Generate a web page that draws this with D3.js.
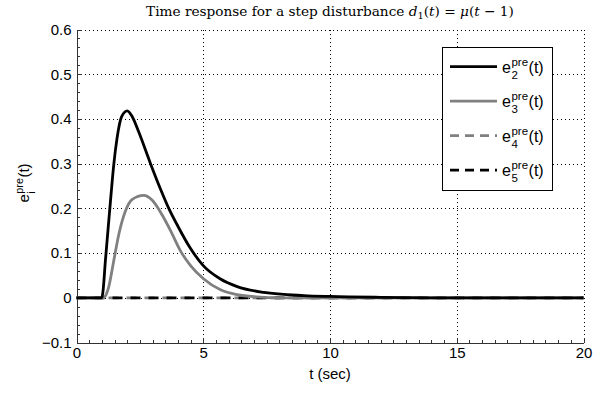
<!DOCTYPE html>
<html><head><meta charset="utf-8">
<script src="https://cdn.jsdelivr.net/npm/d3@7"></script>
<style>body{margin:0;background:#fff} svg{display:block}</style>
</head><body><svg id="c" width="594" height="394"></svg>
<script>
// ---- data ----
const tE2 = [0, 1.0, 1.04, 1.14, 1.25, 1.34, 1.47, 1.6, 1.78, 2.0, 2.2, 2.46, 2.92, 3.3, 3.64, 4.0, 4.5, 5.0, 5.68, 6.34, 7.39, 8.97, 10.0, 12, 14, 20];
const e2  = [0, 0, 0.012, 0.083, 0.157, 0.216, 0.298, 0.357, 0.405, 0.418, 0.405, 0.37, 0.30, 0.245, 0.20, 0.16, 0.11, 0.072, 0.042, 0.025, 0.012, 0.005, 0.003, 0.001, 0, 0];
const tE3 = [0, 1.0, 1.08, 1.16, 1.27, 1.47, 1.67, 1.93, 2.2, 2.65, 2.99, 3.38, 3.71, 4.1, 4.5, 5.02, 5.68, 6.34, 7.1, 8.0, 20];
const e3  = [0, 0, 0, 0.006, 0.024, 0.083, 0.142, 0.194, 0.22, 0.229, 0.218, 0.185, 0.15, 0.105, 0.072, 0.042, 0.018, 0.007, 0.002, 0, 0];
const tE4 = [0, 20];
const e4  = [0, 0];
const tE5 = [0, 20];
const e5  = [0, 0];
const xTicks = [0, 5, 10, 15, 20];
const xTickLabels = ["0", "5", "10", "15", "20"];
const yTicks = [-0.1, 0, 0.1, 0.2, 0.3, 0.4, 0.5, 0.6];
const yTickLabels = ["\u22120.1", "0", "0.1", "0.2", "0.3", "0.4", "0.5", "0.6"];
const seriesSubs = ["2", "3", "4", "5"];

// ---- layout ----
const svg = d3.select("#c");
const L = 76.5, R = 583.5, T = 29.5, B = 342.5;
const x = d3.scaleLinear().domain([0, 20]).range([L, R]);
const y = d3.scaleLinear().domain([-0.1, 0.6]).range([B, T]);
const FONT = "'Liberation Sans', Arial, Helvetica, sans-serif";

// grid (dotted)
const grid = svg.append("g").attr("stroke", "#000").attr("stroke-width", 1).attr("stroke-dasharray", "1,3").attr("shape-rendering", "crispEdges");
xTicks.slice(1).forEach(v => grid.append("line").attr("x1", Math.round(x(v)) + 0.5).attr("x2", Math.round(x(v)) + 0.5).attr("y1", T).attr("y2", B));
yTicks.slice(1).forEach(v => grid.append("line").attr("y1", Math.round(y(v)) + 0.5).attr("y2", Math.round(y(v)) + 0.5).attr("x1", L).attr("x2", R));

// axes with inward ticks
const xAxis = d3.axisBottom(x).tickValues(xTicks).tickFormat((d, i) => xTickLabels[i]).tickSizeInner(-5).tickSizeOuter(0).tickPadding(5);
const yAxis = d3.axisLeft(y).tickValues(yTicks).tickFormat((d, i) => yTickLabels[i]).tickSizeInner(-5).tickSizeOuter(0).tickPadding(5);
const gx = svg.append("g").attr("transform", `translate(0,${B})`).call(xAxis);
const gy = svg.append("g").attr("transform", `translate(${L},0)`).call(yAxis);
// minor ticks
const gxm = svg.append("g").attr("transform", `translate(0,${B})`).call(d3.axisBottom(x).tickValues(d3.range(0, 20.01, 0.5)).tickFormat("").tickSizeInner(-3).tickSizeOuter(0));
const gym = svg.append("g").attr("transform", `translate(${L},0)`).call(d3.axisLeft(y).tickValues(d3.range(-0.1, 0.601, 0.02)).tickFormat("").tickSizeInner(-3).tickSizeOuter(0));
[gx, gy, gxm, gym].forEach(g => {
  g.selectAll(".domain").attr("stroke", "#333").attr("shape-rendering", "crispEdges");
  g.selectAll(".tick line").attr("stroke", "#333").attr("shape-rendering", "crispEdges");
  g.selectAll("text").attr("font-family", FONT).attr("font-size", 15).attr("fill", "#000");
});

// lines
const line = (ts, vs) => d3.line().x((d, i) => x(ts[i])).y(d => y(d)).curve(d3.curveMonotoneX)(vs);
const series = [
  {t: tE4, v: e4, color: "#808080", dash: "10,8", off: -14},
  {t: tE5, v: e5, color: "#000", dash: "10,8", off: 0},
  {t: tE3, v: e3, color: "#808080", dash: null},
  {t: tE2, v: e2, color: "#000", dash: null}
];
series.forEach(s => {
  const p = svg.append("path").attr("d", line(s.t, s.v)).attr("fill", "none").attr("stroke", s.color).attr("stroke-width", 2.8).attr("stroke-linejoin", "round");
  if (s.dash) p.attr("stroke-dasharray", s.dash).attr("stroke-dashoffset", s.off);
});

// composite label e^{pre}_{sub}(t)
function eLabel(g, sub, fs) {
  const small = fs * 0.72;
  const e = g.append("text").attr("font-family", FONT).attr("font-size", fs).attr("x", 0).attr("y", 0).text("e");
  const ew = e.node().getComputedTextLength();
  const pre = g.append("text").attr("font-family", FONT).attr("font-size", small).attr("x", ew + 0.5).attr("y", -fs * 0.42).text("pre");
  const sb = g.append("text").attr("font-family", FONT).attr("font-size", small).attr("x", ew + 0.5).attr("y", fs * 0.38).text(sub);
  const w2 = Math.max(pre.node().getComputedTextLength(), sb.node().getComputedTextLength());
  const tt = g.append("text").attr("font-family", FONT).attr("font-size", fs).attr("x", ew + 1 + w2).attr("y", 0).text("(t)");
  return ew + 1 + w2 + tt.node().getComputedTextLength();
}

// legend
const lg = svg.append("g");
lg.append("rect").attr("x", 442.5).attr("y", 47.5).attr("width", 110).attr("height", 143).attr("fill", "#fff").attr("stroke", "#000").attr("stroke-width", 1);
const legendOrder = [
  {color: "#000", dash: null}, {color: "#808080", dash: null},
  {color: "#808080", dash: "9,6"}, {color: "#000", dash: "9,6"}
];
legendOrder.forEach((s, i) => {
  const yy = 66.7 + i * 34.5;
  const l = lg.append("line").attr("x1", 450).attr("x2", 497).attr("y1", yy).attr("y2", yy).attr("stroke", s.color).attr("stroke-width", 2.8);
  if (s.dash) l.attr("stroke-dasharray", s.dash);
  const g = lg.append("g").attr("transform", `translate(502,${yy + 6})`);
  eLabel(g, seriesSubs[i], 16);
});

// axis labels
svg.append("text").attr("x", (L + R) / 2).attr("y", 379).attr("text-anchor", "middle").attr("font-family", FONT).attr("font-size", 15).text("t (sec)");
const yl = svg.append("g");
const ylw = eLabel(yl, "i", 15);
yl.attr("transform", `translate(29,${183 + ylw / 2}) rotate(-90)`);

// title
const title = svg.append("text").attr("x", (L + R) / 2).attr("y", 16).attr("text-anchor", "middle").attr("font-family", "'DejaVu Serif', 'Liberation Serif', serif").attr("font-size", 12);
title.append("tspan").text("Time response for a step disturbance ");
title.append("tspan").attr("font-style", "italic").text("d");
title.append("tspan").attr("font-size", "0.72em").attr("dy", 2.5).text("1");
title.append("tspan").attr("dy", -2.5).text("(");
title.append("tspan").attr("font-style", "italic").text("t");
title.append("tspan").text(") = ");
title.append("tspan").attr("font-style", "italic").text("\u03bc");
title.append("tspan").text("(");
title.append("tspan").attr("font-style", "italic").text("t");
title.append("tspan").text(" \u2212 1)");
// fit title to the reference's width
const tw = title.node().getComputedTextLength();
title.attr("font-size", 12 * 368 / tw);
</script></body></html>
